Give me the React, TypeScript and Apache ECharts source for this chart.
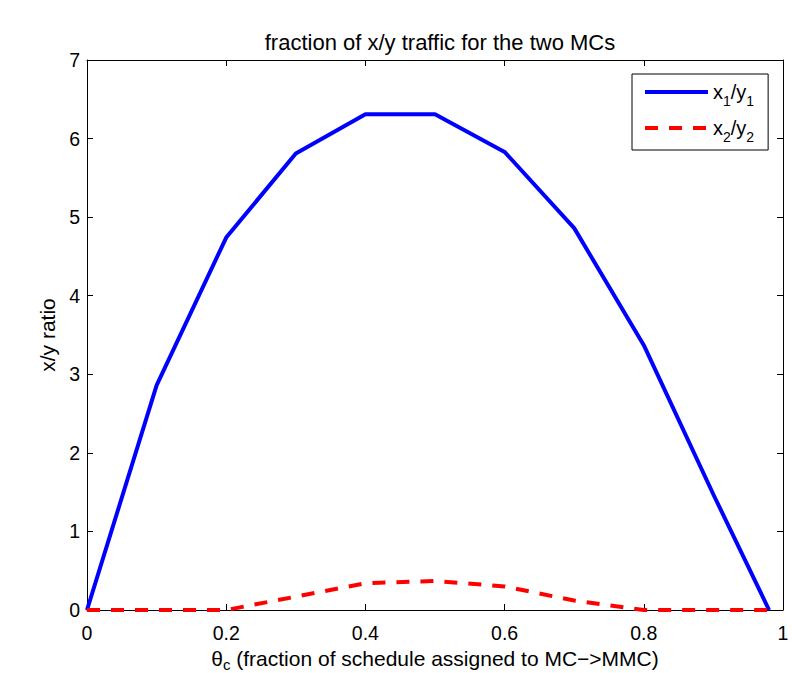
import React, { useEffect, useRef } from "react";
import * as echarts from "echarts";

const thetaValues = [0, 0.1, 0.2, 0.3, 0.4, 0.5, 0.6, 0.7, 0.8, 0.9, 0.98];
const ratio1 = [0, 2.86, 4.74, 5.81, 6.31, 6.31, 5.83, 4.86, 3.37, 1.47, 0];
const ratio2 = [0, 0, 0, 0.17, 0.34, 0.37, 0.3, 0.12, 0, 0, 0];
const seriesNames = ["x1/y1", "x2/y2"];
const titleText = "fraction of x/y traffic for the two MCs";
const yAxisName = "x/y ratio";

const FONT = "'Liberation Sans', Arial, Helvetica, sans-serif";

export default function App() {
  const ref = useRef<HTMLDivElement>(null);
  useEffect(() => {
    if (!ref.current) return;
    const chart = echarts.init(ref.current, null, { renderer: "svg" });
    const legBase = { fontSize: 20, fontFamily: FONT, color: "#000" };
    const legSub = { fontSize: 14, fontFamily: FONT, color: "#000", padding: [18, 0, 0, 0] };
    const nameBase = { fontSize: 21, fontFamily: FONT, color: "#000" };
    const nameSub = { fontSize: 15, fontFamily: FONT, color: "#000", padding: [12, 0, 0, 0] };
    const axisCommon = {
      axisLine: { show: true, onZero: false, lineStyle: { color: "#000", width: 1 } },
      axisTick: { show: true, inside: true, length: 6, lineStyle: { color: "#000" } },
      splitLine: { show: false },
    };
    chart.setOption({
      animation: false,
      backgroundColor: "#fff",
      title: {
        text: titleText,
        left: 435,
        top: 26,
        textAlign: "center",
        textStyle: { fontSize: 22, fontWeight: "normal", color: "#000", fontFamily: FONT },
      },
      grid: { left: 87, top: 60, width: 696, height: 550, outerBoundsMode: "none", containLabel: false },
      legend: {
        data: seriesNames,
        orient: "vertical",
        left: 632,
        top: 74,
        itemWidth: 63,
        itemHeight: 14,
        itemGap: 10,
        padding: [8, 14, 6, 11],
        backgroundColor: "#fff",
        borderColor: "#000",
        borderWidth: 1,
        borderRadius: 0,
        itemStyle: { opacity: 0, borderWidth: 0 },
        lineStyle: { width: 4 },
        textStyle: { ...legBase, rich: { t: legBase, s: legSub } },
        formatter: (name: string) => {
          const d = name === "x1/y1" ? "1" : "2";
          return `{t|x}{s|${d}}{t|/y}{s|${d}}`;
        },
      },
      xAxis: [
        {
          type: "value",
          min: 0,
          max: 1,
          interval: 0.2,
          position: "bottom",
          ...axisCommon,
          axisLabel: { fontSize: 19.5, color: "#000", fontFamily: FONT, margin: 13 },
          name: "{t|θ}{s|c}{t| (fraction of schedule assigned to MC−>MMC)}",
          nameLocation: "middle",
          nameGap: 33,
          nameTextStyle: { ...nameBase, rich: { t: nameBase, s: nameSub } },
        },
        {
          type: "value",
          min: 0,
          max: 1,
          interval: 0.2,
          position: "top",
          ...axisCommon,
          axisLabel: { show: false },
        },
      ],
      yAxis: [
        {
          type: "value",
          min: 0,
          max: 7,
          interval: 1,
          position: "left",
          ...axisCommon,
          axisLabel: { fontSize: 19.5, color: "#000", fontFamily: FONT, margin: 7 },
          name: yAxisName,
          nameLocation: "middle",
          nameGap: 29,
          nameTextStyle: { ...nameBase },
        },
        {
          type: "value",
          min: 0,
          max: 7,
          interval: 1,
          position: "right",
          ...axisCommon,
          axisLabel: { show: false },
        },
      ],
      series: [
        {
          name: seriesNames[0],
          type: "line",
          data: thetaValues.map((x, i) => [x, ratio1[i]]),
          symbol: "none",
          clip: false,
          color: "#0000ff",
          lineStyle: { color: "#0000ff", width: 4 },
          z: 3,
        },
        {
          name: seriesNames[1],
          type: "line",
          data: thetaValues.map((x, i) => [x, ratio2[i]]),
          symbol: "none",
          clip: false,
          color: "#ff0000",
          lineStyle: { color: "#ff0000", width: 4, type: [13, 11] },
          z: 4,
        },
      ],
    });
    return () => chart.dispose();
  }, []);
  return (
    <div
      ref={ref}
      style={{ position: "fixed", left: 0, top: 0, width: 792, height: 673, background: "#fff" }}
    />
  );
}
